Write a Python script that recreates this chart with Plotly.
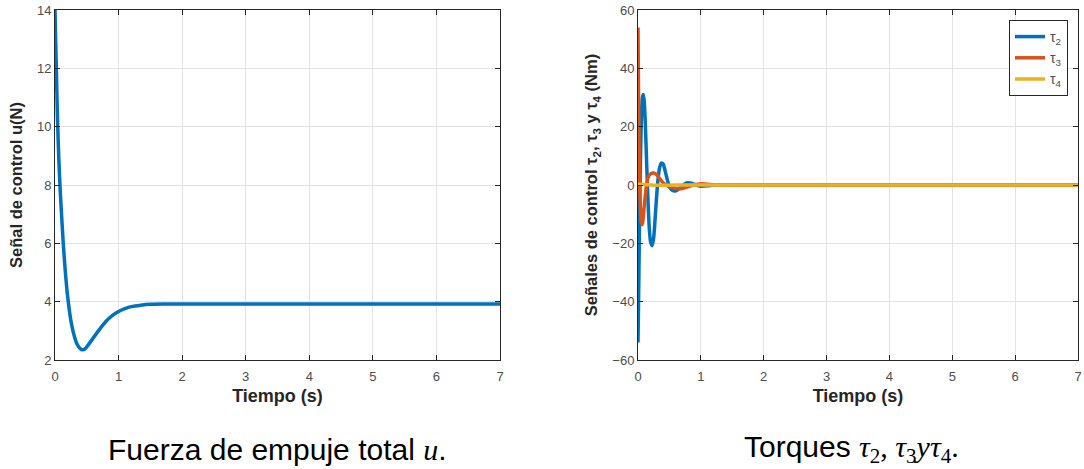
import plotly.graph_objects as go

# Total thrust u(t)
t_u = [0.00, 0.01, 0.02, 0.03, 0.04, 0.06, 0.08, 0.10, 0.13, 0.16, 0.19, 0.22,
       0.25, 0.30, 0.35, 0.40, 0.43, 0.47, 0.50, 0.60, 0.70, 0.80, 0.90, 1.00,
       1.10, 1.20, 1.35, 1.50, 1.70, 2.00, 3.00, 4.00, 5.00, 6.00, 7.00]
u_vals = [14.0, 13.0, 12.1, 11.1, 10.2, 8.9, 7.9, 7.1, 6.0, 5.1, 4.35, 3.8,
          3.35, 2.85, 2.53, 2.38, 2.35, 2.38, 2.45, 2.75, 3.05, 3.32, 3.52, 3.66,
          3.76, 3.83, 3.88, 3.91, 3.92, 3.92, 3.92, 3.92, 3.92, 3.92, 3.92]

# Torque tau_2
t_tau2 = [0.00, 0.01, 0.02, 0.03, 0.04, 0.05, 0.06, 0.07, 0.085, 0.10, 0.12, 0.14,
          0.16, 0.18, 0.20, 0.225, 0.25, 0.28, 0.31, 0.34, 0.37, 0.40, 0.43, 0.47,
          0.51, 0.55, 0.60, 0.65, 0.70, 0.75, 0.80, 0.85, 0.90, 0.95, 1.00, 1.10,
          1.20, 1.30, 1.50, 7.00]
tau2 = [-54.0, -38.0, -20.0, -3.0, 10.0, 20.0, 26.5, 30.0, 31.0, 28.5, 19.0, 6.0,
        -6.0, -15.0, -19.5, -20.8, -18.0, -9.0, 0.0, 5.5, 7.5, 7.2, 5.0, 1.5,
        -1.0, -1.9, -2.0, -1.3, -0.3, 0.5, 0.75, 0.6, 0.2, -0.2, -0.4, -0.3,
        0.0, 0.1, 0.0, 0.0]

# Torque tau_3
t_tau3 = [0.00, 0.005, 0.01, 0.02, 0.03, 0.04, 0.05, 0.065, 0.08, 0.10, 0.13, 0.16,
          0.20, 0.25, 0.30, 0.35, 0.40, 0.45, 0.50, 0.60, 0.68, 0.75, 0.85, 0.95,
          1.00, 1.10, 1.30, 7.00]
tau3 = [54.0, 40.0, 27.0, 8.0, -3.0, -9.0, -12.5, -13.6, -12.0, -7.0, -1.0, 2.5,
        3.8, 4.1, 3.5, 2.0, 0.8, 0.0, -0.6, -1.2, -1.3, -0.9, -0.2, 0.3,
        0.4, 0.3, 0.0, 0.0]

# Torque tau_4
t_tau4 = [0.00, 0.10, 0.30, 0.60, 7.00]
tau4 = [0.3, 0.2, -0.1, 0.0, 0.0]

x_ticks = [0, 1, 2, 3, 4, 5, 6, 7]
u_ticks = [2, 4, 6, 8, 10, 12, 14]
tau_ticks = [-60, -40, -20, 0, 20, 40, 60]

BLUE = "#0072BD"
ORANGE = "#D95319"
YELLOW = "#EDB120"
AXIS = "#262626"
TICKS = "#4d4d4d"
GRID = "#e3e3e3"
LW = 3.5

fig = go.Figure()
fig.add_trace(go.Scatter(x=t_u, y=u_vals, mode="lines", xaxis="x", yaxis="y",
                         line=dict(color=BLUE, width=LW, shape="spline", smoothing=0.6),
                         showlegend=False))
fig.add_trace(go.Scatter(x=t_tau2, y=tau2, mode="lines", xaxis="x2", yaxis="y2",
                         name="τ<sub>2</sub>",
                         line=dict(color=BLUE, width=LW, shape="spline", smoothing=0.6)))
fig.add_trace(go.Scatter(x=t_tau3, y=tau3, mode="lines", xaxis="x2", yaxis="y2",
                         name="τ<sub>3</sub>",
                         line=dict(color=ORANGE, width=LW, shape="spline", smoothing=0.6)))
fig.add_trace(go.Scatter(x=t_tau4, y=tau4, mode="lines", xaxis="x2", yaxis="y2",
                         name="τ<sub>4</sub>",
                         line=dict(color=YELLOW, width=LW, shape="spline", smoothing=0.6)))

axis_common = dict(showline=True, linecolor=AXIS, linewidth=1, mirror="allticks",
                   ticks="inside", ticklen=5, tickcolor=AXIS, showgrid=True,
                   gridcolor=GRID, gridwidth=1, zeroline=False, automargin=False,
                   ticklabeloverflow="allow",
                   tickfont=dict(family="Liberation Sans, Arial", size=13, color=TICKS))
xlabel_font = dict(family="Liberation Sans, Arial", size=18, color=AXIS, weight="bold")
ylabel_font = dict(family="Liberation Sans, Arial", size=16.5, color=AXIS, weight="bold")

y_dom = [109 / 469, 459 / 469]

fig.update_layout(
    template="none",
    width=1084, height=469,
    margin=dict(l=0, r=0, t=0, b=0),
    paper_bgcolor="white", plot_bgcolor="white",
    xaxis=dict(domain=[55 / 1084, 500 / 1084], range=[0, 7], tickvals=x_ticks,
               anchor="y", ticklabelstandoff=4,
               title=dict(text="Tiempo (s)", font=xlabel_font, standoff=6),
               **axis_common),
    yaxis=dict(domain=y_dom, range=[2, 14], tickvals=u_ticks, anchor="x",
               title=dict(text="Señal de control u(N)", font=ylabel_font, standoff=10),
               **axis_common),
    xaxis2=dict(domain=[638 / 1084, 1078 / 1084], range=[0, 7], tickvals=x_ticks,
                anchor="y2", ticklabelstandoff=4,
                title=dict(text="Tiempo (s)", font=xlabel_font, standoff=6),
                **axis_common),
    yaxis2=dict(domain=y_dom, range=[-60, 60], tickvals=tau_ticks, anchor="x2",
                title=dict(text="Señales de control τ<sub>2</sub>, τ<sub>3</sub> y τ<sub>4</sub> (Nm)",
                           font=ylabel_font, standoff=10),
                **axis_common),
    legend=dict(x=1068 / 1084, y=(469 - 20) / 469, xanchor="right", yanchor="top",
                bgcolor="white", bordercolor=AXIS, borderwidth=1,
                font=dict(family="Liberation Sans, Arial", size=14, color=TICKS),
                itemwidth=30, tracegroupgap=0),
)

serif = "font-family:'Liberation Serif', 'DejaVu Serif', serif"
cap_font = dict(family="Liberation Sans, Arial", size=30, color="black")
fig.add_annotation(x=277 / 1084, y=(469 - 449) / 469, xref="paper", yref="paper",
                   xanchor="center", yanchor="middle", showarrow=False, font=cap_font,
                   text=f"Fuerza de empuje total <span style=\"{serif}\"><i>u</i></span>.")
fig.add_annotation(x=851 / 1084, y=(469 - 449) / 469, xref="paper", yref="paper",
                   xanchor="center", yanchor="middle", showarrow=False, font=cap_font,
                   text=(f"Torques <span style=\"{serif}\"><i>τ</i><sub>2</sub>, "
                         f"<i>τ</i><sub>3</sub><i>yτ</i><sub>4</sub>.</span>"))

fig.write_html("out.html")
